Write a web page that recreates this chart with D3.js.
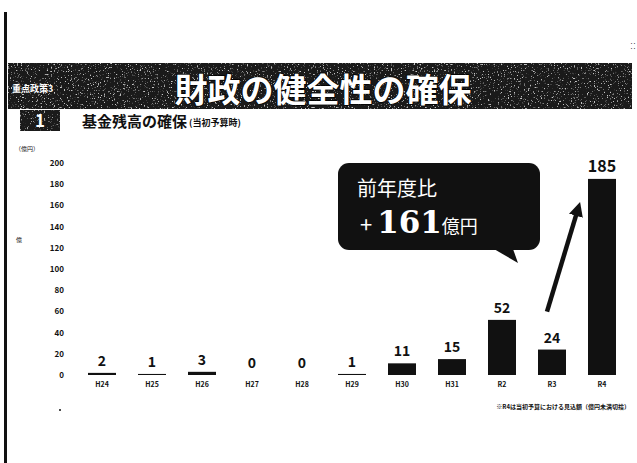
<!DOCTYPE html>
<html>
<head>
<meta charset="utf-8">
<script src="https://cdn.jsdelivr.net/npm/d3@7"></script>
<style>
  body { margin: 0; background: #fff; }
  svg { display: block; }
  text { font-family: "Noto Sans CJK JP", "Noto Sans", sans-serif; }
</style>
</head>
<body>
<div id="chart"></div>
<script>
// 基金残高（億円）
const categories = ["H24", "H25", "H26", "H27", "H28", "H29", "H30", "H31", "R2", "R3", "R4"];
const values = [2, 1, 3, 0, 0, 1, 11, 15, 52, 24, 185];
const yTicks = [0, 20, 40, 60, 80, 100, 120, 140, 160, 180, 200];

const width = 637, height = 463;
const svg = d3.select("#chart").append("svg")
    .attr("width", width)
    .attr("height", height);

// speckle texture for the dark banner (scan look)
const defs = svg.append("defs");
const speck = defs.append("filter").attr("id", "speck")
    .attr("x", 0).attr("y", 0).attr("width", 1).attr("height", 1);
speck.append("feTurbulence")
    .attr("type", "fractalNoise")
    .attr("baseFrequency", 0.7)
    .attr("numOctaves", 2)
    .attr("seed", 4);
speck.append("feColorMatrix")
    .attr("type", "matrix")
    .attr("values", "0 0 0 0 1  0 0 0 0 1  0 0 0 0 1  7 0 0 0 -4.3");
speck.append("feComposite").attr("in2", "SourceGraphic").attr("operator", "in");

defs.append("marker")
    .attr("id", "head")
    .attr("viewBox", "0 0 10 10")
    .attr("refX", 5).attr("refY", 5)
    .attr("markerWidth", 3.2).attr("markerHeight", 3.2)
    .attr("orient", "auto")
  .append("path")
    .attr("d", "M0,0L10,5L0,10Z")
    .attr("fill", "#111");

// page edge
svg.append("rect").attr("x", 4).attr("y", 12).attr("width", 3).attr("height", height - 12).attr("fill", "#111");
svg.append("circle").attr("cx", 60).attr("cy", 410).attr("r", 1).attr("fill", "#111");

// title banner
svg.append("rect").attr("x", 8).attr("y", 63).attr("width", 624).attr("height", 46).attr("fill", "#1a1a1a");
svg.append("rect").attr("x", 8).attr("y", 63).attr("width", 624).attr("height", 46)
    .attr("fill", "#fff").attr("filter", "url(#speck)").attr("opacity", 0.75);
svg.append("text")
    .attr("x", 12).attr("y", 92)
    .attr("fill", "#fff").attr("font-size", 9).attr("font-weight", "bold")
    .text("重点政策3");
svg.append("text")
    .attr("x", 323).attr("y", 102)
    .attr("text-anchor", "middle")
    .attr("fill", "#fff").attr("stroke", "#000").attr("stroke-width", 1.5)
    .attr("paint-order", "stroke")
    .attr("font-size", 33).attr("font-weight", "bold")
    .text("財政の健全性の確保");

// sub heading
svg.append("rect").attr("x", 20).attr("y", 110).attr("width", 40).attr("height", 21).attr("fill", "#1a1a1a");
svg.append("rect").attr("x", 20).attr("y", 110).attr("width", 40).attr("height", 21)
    .attr("fill", "#fff").attr("filter", "url(#speck)").attr("opacity", 0.6);
svg.append("text")
    .attr("x", 40).attr("y", 127)
    .attr("text-anchor", "middle")
    .attr("fill", "#fff").attr("font-size", 17).attr("font-weight", "bold")
    .attr("font-family", "DejaVu Serif")
    .text("1");
svg.append("text")
    .attr("x", 82).attr("y", 127)
    .attr("fill", "#111").attr("font-size", 15).attr("font-weight", "bold")
    .text("基金残高の確保");
svg.append("text")
    .attr("x", 189).attr("y", 126)
    .attr("fill", "#111").attr("font-size", 9).attr("font-weight", "bold")
    .text("(当初予算時)");

// scales
const x = d3.scaleBand()
    .domain(categories)
    .range([77, 627])
    .paddingInner(0.44)
    .paddingOuter(0.22);

const y = d3.scaleLinear()
    .domain([0, 200])
    .range([375, 163]);

// y axis labels only
const yAxis = svg.append("g")
    .attr("transform", "translate(64,0)")
    .call(d3.axisLeft(y).tickValues(yTicks).tickSize(0).tickPadding(0));
yAxis.select(".domain").remove();
yAxis.selectAll("text")
    .attr("font-size", 8).attr("font-weight", "bold").attr("fill", "#111")
    .attr("font-family", "Liberation Sans");

svg.append("text")
    .attr("x", 15).attr("y", 151)
    .attr("fill", "#111").attr("font-size", 6)
    .text("（億円）");
svg.append("text")
    .attr("x", 16).attr("y", 242)
    .attr("fill", "#111").attr("font-size", 6)
    .text("億");

// x axis labels only
const xAxis = svg.append("g")
    .attr("transform", "translate(0,382)")
    .call(d3.axisBottom(x).tickSize(0).tickPadding(0));
xAxis.select(".domain").remove();
xAxis.selectAll("text")
    .attr("font-size", 7).attr("font-weight", "bold").attr("fill", "#111")
    .attr("font-family", "Liberation Sans");

// bars
svg.append("g")
  .selectAll("rect")
  .data(values)
  .join("rect")
    .attr("x", (d, i) => x(categories[i]))
    .attr("y", d => y(d))
    .attr("width", x.bandwidth())
    .attr("height", d => y(0) - y(d))
    .attr("fill", "#111");

// value labels
svg.append("g")
  .selectAll("text")
  .data(values)
  .join("text")
    .attr("x", (d, i) => x(categories[i]) + x.bandwidth() / 2)
    .attr("y", d => y(d) - 7)
    .attr("text-anchor", "middle")
    .attr("font-family", "Liberation Sans")
    .attr("font-weight", "bold")
    .attr("font-size", (d, i) => i === values.length - 1 ? 16 : 14)
    .attr("fill", "#111")
    .text(d => d);

// arrow from R3 towards R4
const r3 = categories.length - 2;
svg.append("line")
    .attr("x1", x(categories[r3]) + 9).attr("y1", y(values[r3]) - 38)
    .attr("x2", x(categories[r3 + 1]) - 10).attr("y2", y(values[r3 + 1]) + 30)
    .attr("stroke", "#111").attr("stroke-width", 4.5)
    .attr("marker-end", "url(#head)");

// callout
const callout = svg.append("g");
callout.append("rect")
    .attr("x", 338).attr("y", 163).attr("width", 202).attr("height", 87)
    .attr("rx", 11).attr("fill", "#111");
callout.append("path")
    .attr("d", "M494,249L518,263L513,249Z")
    .attr("fill", "#111");
callout.append("text")
    .attr("x", 357).attr("y", 196)
    .attr("fill", "#fff").attr("font-size", 20)
    .text("前年度比");
const t2 = callout.append("text")
    .attr("x", 360).attr("y", 233)
    .attr("fill", "#fff");
t2.append("tspan").attr("font-size", 22).text("+ ");
t2.append("tspan").attr("font-size", 31).attr("font-weight", "bold")
    .attr("font-family", "DejaVu Serif").text("161");
t2.append("tspan").attr("font-size", 18).text("億円");

// footnote
svg.append("text")
    .attr("x", 630).attr("y", 409)
    .attr("text-anchor", "end")
    .attr("fill", "#111").attr("font-size", 6).attr("font-weight", "bold")
    .text("※R4は当初予算における見込額（億円未満切捨）");

// scan marks on the right edge
svg.append("text")
    .attr("x", 633).attr("y", 40)
    .attr("fill", "#111").attr("font-size", 6)
    .attr("writing-mode", "tb")
    .text("：：");
</script>
</body>
</html>
